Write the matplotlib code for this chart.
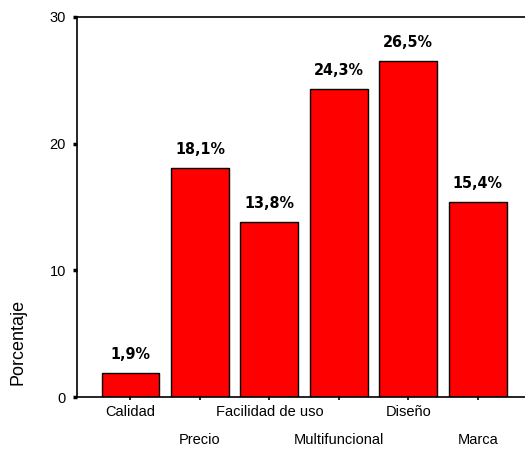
import matplotlib

matplotlib.use("Agg")
import matplotlib.pyplot as plt

categories = ["Calidad", "Precio", "Facilidad de uso", "Multifuncional", "Diseño", "Marca"]
percentages = [1.9, 18.1, 13.8, 24.3, 26.5, 15.4]
y_ticks = [0, 10, 20, 30]

plt.rcParams["font.family"] = ["Liberation Sans", "DejaVu Sans"]

fig = plt.figure(figsize=(5.25, 4.5), dpi=100)
ax = fig.add_axes([0.1467, 0.1167, 0.8533, 0.8466])

positions = list(range(len(categories)))
ax.bar(positions, percentages, width=0.835, color="#ff0000",
       edgecolor="black", linewidth=1.0)

for pos, value in zip(positions, percentages):
    ax.annotate(f"{value:.1f}%".replace(".", ","), (pos, value),
                xytext=(0, 8), textcoords="offset points",
                ha="center", va="bottom", fontsize=11.5, fontweight="bold",
                fontstretch="condensed", family="DejaVu Sans")

ax.set_xlim(-0.77, 5.68)
ax.set_ylim(0, 30)
ax.set_yticks(y_ticks)
ax.tick_params(axis="y", direction="out", length=3, width=2.5, pad=5,
               labelsize=10.5, colors="black")
ax.tick_params(axis="x", direction="out", length=2, width=1.2, pad=4)
ax.set_xticks(positions)
ax.set_xticklabels(["" for _ in categories])

# two staggered rows of category names
for pos, name in enumerate(categories):
    y_off = -15 if pos % 2 == 0 else -43
    ax.annotate(name, (pos, 0), xytext=(0, y_off), textcoords="offset pixels",
                ha="center", va="center", fontsize=10.5,
                annotation_clip=False)

ax.spines["right"].set_visible(False)
for side in ["left", "top", "bottom"]:
    ax.spines[side].set_linewidth(1.2)

ax.set_ylabel("Porcentaje", fontsize=13)
ax.yaxis.set_label_coords(-0.112, 0.146)

fig.savefig("out.png", dpi=100)
